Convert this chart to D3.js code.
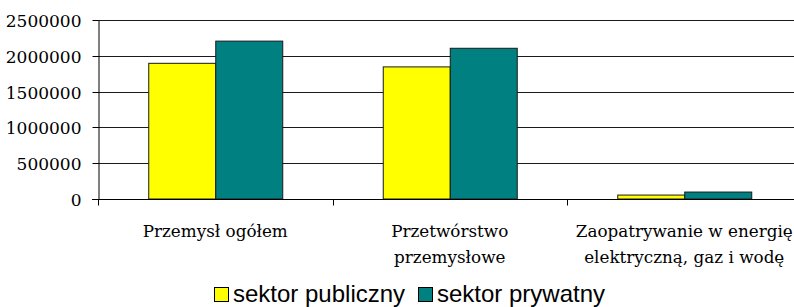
<!DOCTYPE html>
<html lang="pl">
    <head>
        <meta charset="utf-8">
        <title>Sektor publiczny i prywatny</title>
        <script src="https://d3js.org/d3.v7.min.js"></script>
        <style>
            body { margin: 0; background: #fff; }
            .serif { font-family: 'DejaVu Serif', serif; }
            .sans { font-family: 'Liberation Sans', Arial, Helvetica, sans-serif; }
        </style>
    </head>
    <body>
    <div id="mainDiv"></div>

        <script type="text/javascript">
            // data
            const categories = [
                ['Przemysł ogółem'],
                ['Przetwórstwo', 'przemysłowe'],
                ['Zaopatrywanie w energię', 'elektryczną, gaz i wodę']
            ]
            const seriesNames = ['sektor publiczny', 'sektor prywatny']
            const publiczny = [1895000, 1845000, 55000]
            const prywatny = [2205000, 2105000, 97000]
            const yTicks = [0, 500000, 1000000, 1500000, 2000000, 2500000]
            const colors = ['#ffff00', '#008080']

            const width = 794
            const height = 307

            const margins = { top: 20, left: 98, right: -7.5, bottom: 108 }

            const svg = d3.select('#mainDiv').append('svg')
                .attr('width', width)
                .attr('height', height)

            const x0 = d3.scaleBand()
                .domain(d3.range(categories.length))
                .range([margins.left, width - margins.right])

            const barW = x0.bandwidth() / 3.5 // Excel gap width 150%

            const x1 = d3.scaleBand()
                .domain(seriesNames)
                .range([x0.bandwidth() / 2 - barW, x0.bandwidth() / 2 + barW])

            const y = d3.scaleLinear()
                .domain([0, 2500000])
                .range([height - margins.bottom, margins.top])

            // gridlines
            svg.append('g')
                .selectAll('line')
                .data(yTicks.slice(1))
                .join('line')
                .attr('x1', margins.left)
                .attr('x2', width)
                .attr('y1', d => Math.round(y(d)) + 0.5)
                .attr('y2', d => Math.round(y(d)) + 0.5)
                .attr('stroke', '#1a1a1a')
                .attr('stroke-width', 1)

            // y axis
            const yAxis = svg.append('g')
                .attr('transform', `translate(${margins.left + 0.5},0.5)`)
                .call(d3.axisLeft(y).tickValues(yTicks).tickFormat(d3.format('d')).tickSize(6).tickSizeOuter(0))
            yAxis.attr('font-family', null).attr('font-size', null)
            yAxis.select('.domain').attr('stroke', '#000')
            yAxis.selectAll('.tick line').attr('stroke', '#000')
            yAxis.selectAll('.tick').attr('transform', d => `translate(0,${Math.round(y(d))})`)
            yAxis.selectAll('text')
                .attr('class', 'serif')
                .attr('x', -17)
                .attr('dy', '0.36em')
                .attr('fill', '#000')
                .attr('font-size', 17)

            // bars
            const seriesData = [publiczny, prywatny]
            const groups = svg.append('g')
                .selectAll('g')
                .data(categories.map((c, i) => i))
                .join('g')
                .attr('transform', i => `translate(${x0(i)},0)`)

            groups.selectAll('rect')
                .data(i => seriesNames.map((s, k) => ({ s, k, v: seriesData[k][i] })))
                .join('rect')
                .attr('x', d => x1(d.s) + 0.5)
                .attr('y', d => y(d.v))
                .attr('width', x1.bandwidth())
                .attr('height', d => y(0) - y(d.v))
                .attr('fill', d => colors[d.k])
                .attr('stroke', '#1a1a1a')
                .attr('stroke-width', 1)

            // x axis
            const baseY = Math.round(y(0)) + 0.5
            svg.append('line')
                .attr('x1', margins.left - 6)
                .attr('x2', width)
                .attr('y1', baseY)
                .attr('y2', baseY)
                .attr('stroke', '#000')

            svg.append('g')
                .selectAll('line')
                .data(d3.range(categories.length))
                .join('line')
                .attr('x1', i => Math.round(x0(i)) + 0.5)
                .attr('x2', i => Math.round(x0(i)) + 0.5)
                .attr('y1', baseY)
                .attr('y2', baseY + 6)
                .attr('stroke', '#000')

            // category labels
            const labels = svg.append('g')
                .selectAll('text')
                .data(categories)
                .join('text')
                .attr('class', 'serif')
                .attr('text-anchor', 'middle')
                .attr('fill', '#000')
                .attr('font-size', 16.8)

            labels.selectAll('tspan')
                .data((lines, i) => lines.map(t => ({ t, i })))
                .join('tspan')
                .attr('x', d => x0(d.i) + x0.bandwidth() / 2)
                .attr('y', (d, j) => 237 + j * 26)
                .text(d => d.t)

            // legend
            const legendX = [214, 418]
            const legend = svg.append('g')
                .selectAll('g')
                .data(seriesNames)
                .join('g')
                .attr('transform', (d, k) => `translate(${legendX[k]},0)`)

            legend.append('rect')
                .attr('x', 0.5)
                .attr('y', 287.5)
                .attr('width', 14)
                .attr('height', 14)
                .attr('fill', (d, k) => colors[k])
                .attr('stroke', '#000')

            legend.append('text')
                .attr('class', 'sans')
                .attr('x', 19)
                .attr('y', 302)
                .attr('fill', '#000')
                .attr('font-size', 24)
                .text(d => d)
        </script>
    </body>
</html>
